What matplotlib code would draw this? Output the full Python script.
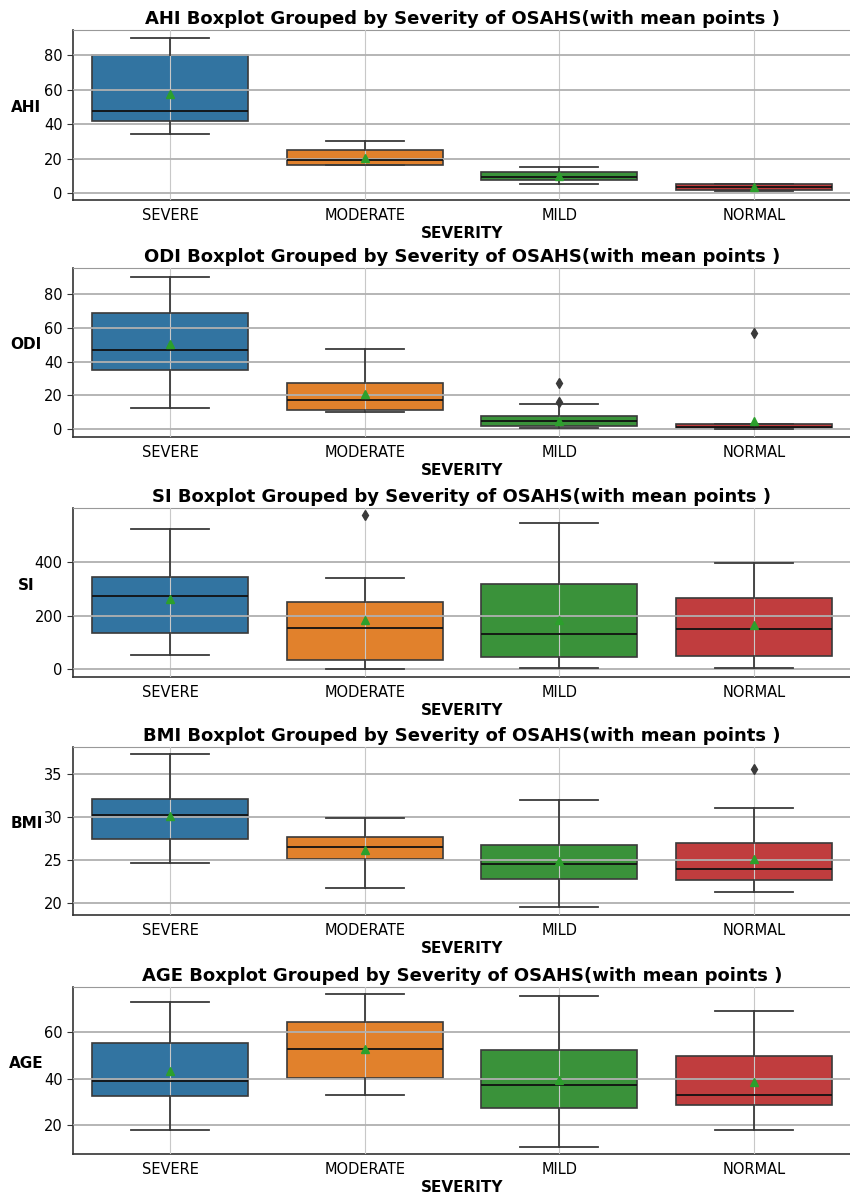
import matplotlib
matplotlib.use("Agg")
import matplotlib.pyplot as plt

categories = ["SEVERE", "MODERATE", "MILD", "NORMAL"]
metrics = ["AHI", "ODI", "SI", "BMI", "AGE"]

# AHI
ahi_whislo = [34, 16, 5, 1]
ahi_q1 = [41.5, 16.5, 7.5, 2]
ahi_med = [47.5, 19, 9.5, 3.5]
ahi_q3 = [80, 25, 12, 5]
ahi_whishi = [90, 30, 15, 5.5]
ahi_mean = [57.5, 20.5, 10, 3.5]
ahi_fliers = [[], [], [], []]

# ODI
odi_whislo = [12.5, 10, 0.5, 0]
odi_q1 = [35, 11, 2, 0.5]
odi_med = [47, 17, 4.5, 1.5]
odi_q3 = [69, 27, 7.5, 3]
odi_whishi = [90, 47.5, 15, 3]
odi_mean = [50.5, 20.5, 5, 4.5]
odi_fliers = [[], [], [27.5, 16], [57]]

# SI
si_whislo = [52, 2.5, 4, 5]
si_q1 = [135, 36, 46, 49]
si_med = [272, 155, 130, 149]
si_q3 = [346, 250, 320, 267]
si_whishi = [525, 340, 546, 395]
si_mean = [261, 182, 185, 164]
si_fliers = [[], [576], [], []]

# BMI
bmi_whislo = [24.7, 21.7, 19.5, 21.3]
bmi_q1 = [27.4, 25.1, 22.8, 22.7]
bmi_med = [30.2, 26.5, 24.55, 24.0]
bmi_q3 = [32.1, 27.7, 26.7, 27.0]
bmi_whishi = [37.3, 29.9, 32.0, 31.1]
bmi_mean = [30.1, 26.2, 24.9, 25.1]
bmi_fliers = [[], [], [], [35.6]]

# AGE
age_whislo = [18, 33, 11, 18]
age_q1 = [32.7, 40.4, 27.6, 28.8]
age_med = [39.2, 52.6, 37.5, 33.1]
age_q3 = [55.4, 64.3, 52.3, 49.8]
age_whishi = [73, 76, 75.4, 69]
age_mean = [43.1, 52.7, 39.5, 38.5]
age_fliers = [[], [], [], []]

data = {
    "AHI": (ahi_whislo, ahi_q1, ahi_med, ahi_q3, ahi_whishi, ahi_mean, ahi_fliers),
    "ODI": (odi_whislo, odi_q1, odi_med, odi_q3, odi_whishi, odi_mean, odi_fliers),
    "SI": (si_whislo, si_q1, si_med, si_q3, si_whishi, si_mean, si_fliers),
    "BMI": (bmi_whislo, bmi_q1, bmi_med, bmi_q3, bmi_whishi, bmi_mean, bmi_fliers),
    "AGE": (age_whislo, age_q1, age_med, age_q3, age_whishi, age_mean, age_fliers),
}

ylims = {"AHI": (-4, 94.5), "ODI": (-4.7, 95.4), "SI": (-29, 602),
         "BMI": (18.6, 38.15), "AGE": (7.8, 79.2)}
yticks = {"AHI": [0, 20, 40, 60, 80], "ODI": [0, 20, 40, 60, 80],
          "SI": [0, 200, 400], "BMI": [20, 25, 30, 35], "AGE": [20, 40, 60]}

colors = ["#3274A1", "#E1812C", "#3A923A", "#C03D3E"]
edge = "#3a3a3a"

plt.rcParams['font.family'] = ['DejaVu Sans']

W, H = 850, 1195
fig = plt.figure(figsize=(W / 100, H / 100), dpi=100)
fig.patch.set_facecolor("white")

tops = [30, 268, 508, 747, 987]
bottoms = [200, 437, 677, 915, 1154]
left_px, right_px = 73, 851

for i, m in enumerate(metrics):
    ax = fig.add_axes([left_px / W, 1 - bottoms[i] / H,
                       (right_px - left_px) / W, (bottoms[i] - tops[i]) / H])
    wl, q1, md, q3, wh, mn, fl = data[m]
    stats = []
    for j in range(len(categories)):
        stats.append(dict(whislo=wl[j], q1=q1[j], med=md[j], q3=q3[j],
                          whishi=wh[j], mean=mn[j], fliers=fl[j],
                          label=categories[j]))
    bp = ax.bxp(stats, positions=range(len(categories)), widths=0.8,
                patch_artist=True, showmeans=True,
                boxprops=dict(edgecolor=edge, linewidth=1.2, zorder=1),
                medianprops=dict(color="#111111", linewidth=1.3, zorder=3),
                whiskerprops=dict(color=edge, linewidth=1.3, zorder=3),
                capprops=dict(color=edge, linewidth=1.3, zorder=3),
                meanprops=dict(marker="^", markerfacecolor="#2ca02c",
                               markeredgecolor="#2ca02c", markersize=6,
                               zorder=4),
                flierprops=dict(marker="d", markerfacecolor=edge,
                                markeredgecolor=edge, markersize=5, zorder=4))
    for patch, c in zip(bp["boxes"], colors):
        patch.set_facecolor(c)
    ax.set_xlim(-0.5, 3.5)
    ax.set_ylim(*ylims[m])
    ax.set_yticks(yticks[m])
    ax.set_axisbelow(False)
    ax.yaxis.grid(True, color="#b0b0b0", linewidth=1.3)
    ax.xaxis.grid(True, color="#c8c8c8", linewidth=0.8)
    ax.tick_params(axis="both", labelsize=10.5, color="#333333", length=4)
    ax.tick_params(axis="x", length=0, pad=6)
    for s in ["left", "bottom"]:
        ax.spines[s].set_color("#333333")
        ax.spines[s].set_linewidth(1.2)
    ax.spines["top"].set_color("#999999")
    ax.spines["right"].set_visible(False)
    ax.set_title(f"{m} Boxplot Grouped by Severity of OSAHS(with mean points )",
                 fontsize=13, fontweight="bold", pad=4)
    ax.set_xlabel("SEVERITY", fontsize=11, fontweight="bold", labelpad=2)
    ax.set_ylabel(m, fontsize=11, fontweight="bold", rotation=0)
    ax.yaxis.set_label_coords(-0.06, 0.5)

fig.savefig("out.png", dpi=100, facecolor="white")
